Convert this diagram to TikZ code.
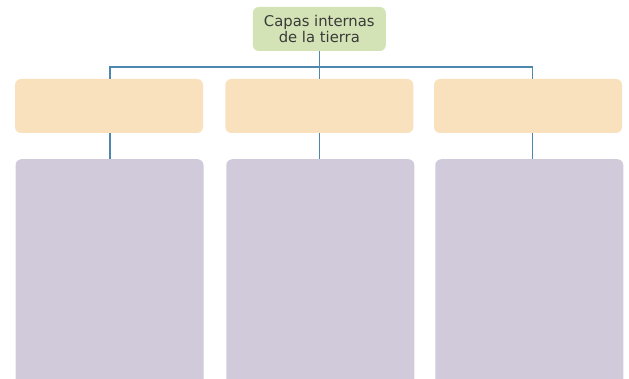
\documentclass[tikz,border=0pt]{standalone}
\usepackage{fontspec}
\setmainfont{DejaVu Sans}
\definecolor{topgreen}{HTML}{D3E3B5}
\definecolor{boxorange}{HTML}{FAE1BE}
\definecolor{boxpurple}{HTML}{D1CADB}
\definecolor{linkblue}{HTML}{4F88AE}
\definecolor{txtgray}{HTML}{3A3A3A}
\begin{document}
\begin{tikzpicture}[x=1pt,y=-1pt,
  topbox/.style={fill=topgreen,draw=none,rounded corners=6pt,minimum width=133pt,minimum height=44pt,inner sep=0pt,align=center,text=txtgray,font=\fontsize{14.8}{16.5}\selectfont},
  headbox/.style={fill=boxorange,draw=none,rounded corners=6pt,minimum width=188pt,minimum height=54pt,inner sep=0pt},
  bodybox/.style={fill=boxpurple,draw=none,rounded corners=6pt,minimum width=188pt,minimum height=240pt,inner sep=0pt,anchor=north},
  link/.style={draw=linkblue,line width=1.5pt}]
\useasboundingbox (0,0) rectangle (629,379);
\node[topbox] (top) at (319.3,29) {Capas internas\\de la tierra};
\node[headbox] (h1) at (109,106) {};
\node[headbox] (h2) at (319.3,106) {};
\node[headbox] (h3) at (528,106) {};
\node[bodybox] (b1) at (109.5,159) {};
\node[bodybox] (b2) at (320.3,159) {};
\node[bodybox] (b3) at (529.3,159) {};
\coordinate (j) at (319.3,67);
\coordinate (x1) at (110,0);
\coordinate (x3) at (532.7,0);
\draw[link] (top.south) -- (h2.north);
\draw[link] (x1 |- h1.north) |- (j) -| (x3 |- h3.north);
\draw[link] (x1 |- h1.south) -- (x1 |- b1.north);
\draw[link] (h2.south) -- (h2.south |- b2.north);
\draw[link] (x3 |- h3.south) -- (x3 |- b3.north);
\end{tikzpicture}
\end{document}
